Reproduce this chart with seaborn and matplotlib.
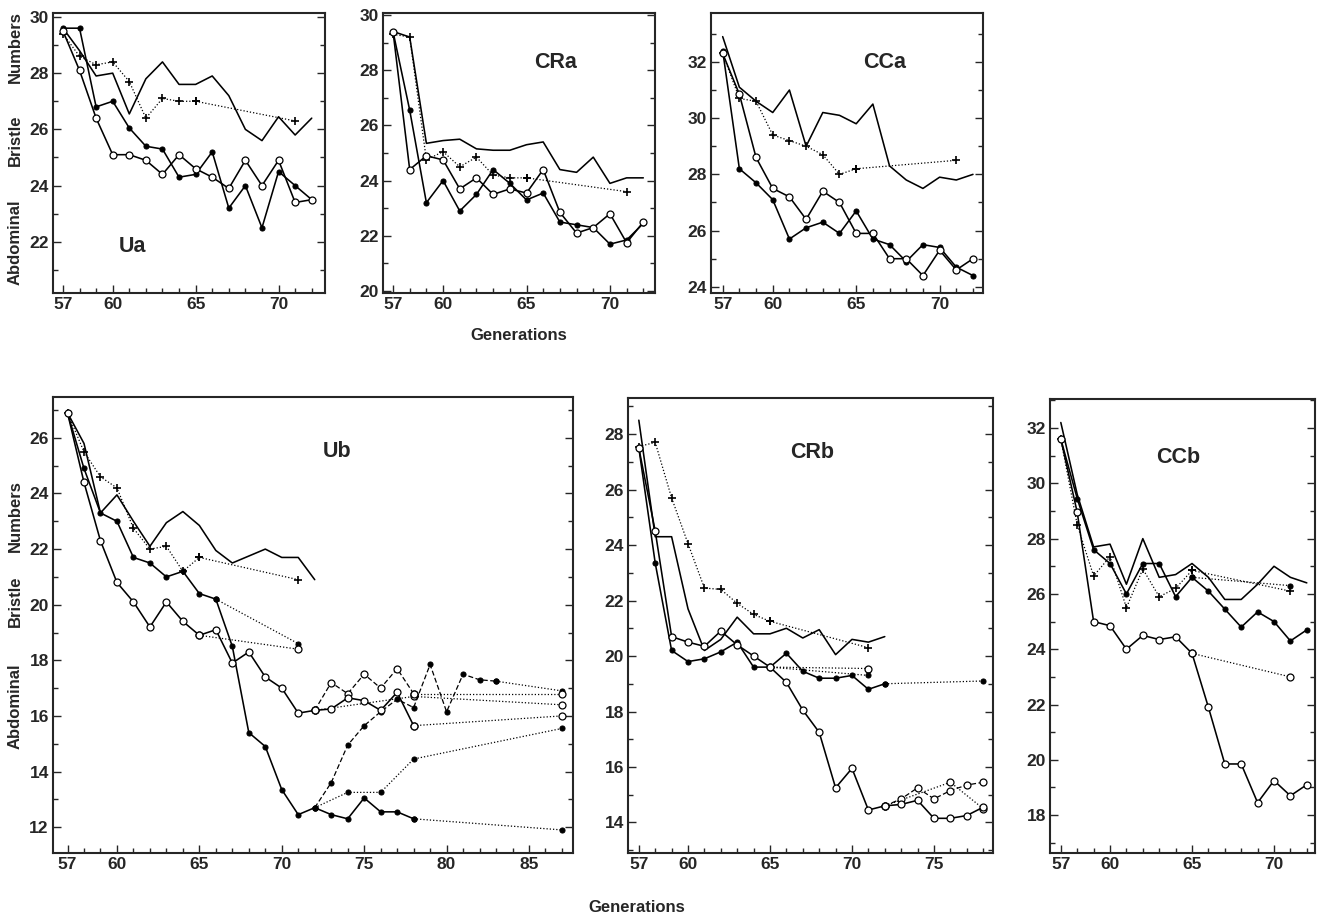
import matplotlib
matplotlib.use("Agg")
import matplotlib.pyplot as plt
import seaborn as sns
from matplotlib.ticker import FixedLocator, MultipleLocator

sns.set_style("ticks")
plt.rcParams['font.family'] = ['Liberation Sans', 'DejaVu Sans']
plt.rcParams['font.weight'] = 'bold'

W, H = 1320, 919

# ---- data (abdominal bristle numbers per generation) ----
gen_a = list(range(57, 73))
sel_gen = list(range(57, 66))

ua_solid = [29.6, 28.8, 27.9, 28.0, 26.55, 27.8, 28.4, 27.6, 27.6, 27.9, 27.2, 26.0, 25.6, 26.45, 25.8, 26.4]
ua_plus = [29.4, 28.6, 28.3, 28.4, 27.7, 26.4, 27.1, 27.0, 27.0]
ua_plus_rel = [27.0, 26.3]
ua_filled = [29.6, 29.6, 26.8, 27.0, 26.05, 25.4, 25.3, 24.3, 24.4, 25.2, 23.2, 24.0, 22.5, 24.5, 24.0, 23.5]
ua_open = [29.5, 28.1, 26.4, 25.1, 25.1, 24.9, 24.4, 25.1, 24.6, 24.3, 23.9, 24.9, 24.0, 24.9, 23.4, 23.5]

cra_solid = [29.4, 29.2, 25.35, 25.45, 25.5, 25.15, 25.1, 25.1, 25.3, 25.4, 24.4, 24.3, 24.85, 23.9, 24.1, 24.1]
cra_plus = [29.3, 29.2, 24.75, 25.05, 24.5, 24.85, 24.2, 24.1, 24.1]
cra_plus_rel = [24.1, 23.6]
cra_filled = [29.4, 26.55, 23.2, 24.0, 22.9, 23.5, 24.4, 23.9, 23.3, 23.55, 22.5, 22.4, 22.3, 21.7, 21.85, 22.45]
cra_open = [29.4, 24.4, 24.9, 24.75, 23.7, 24.1, 23.5, 23.7, 23.55, 24.4, 22.85, 22.1, 22.3, 22.8, 21.75, 22.5]

cca_solid = [32.9, 31.1, 30.6, 30.2, 31.0, 29.0, 30.2, 30.1, 29.8, 30.5, 28.3, 27.8, 27.5, 27.9, 27.8, 28.0]
cca_plus = [32.3, 30.7, 30.6, 29.4, 29.2, 29.0, 28.7, 28.0, 28.2]
cca_plus_rel = [28.2, 28.5]
cca_open = [32.3, 30.85, 28.6, 27.5, 27.2, 26.4, 27.4, 27.0, 25.9, 25.9, 25.0, 25.0, 24.4, 25.3, 24.6, 25.0]
cca_filled = [32.4, 28.2, 27.7, 27.1, 25.7, 26.1, 26.3, 25.9, 26.7, 25.7, 25.5, 24.9, 25.5, 25.4, 24.7, 24.4]

rel_gen = [65, 71]

# Ub
ub_solid = [26.9, 25.8, 23.3, 23.95, 23.0, 22.1, 22.95, 23.35, 22.85, 21.95, 21.5, 21.75, 22.0, 21.7, 21.7, 20.9]
ub_plus = [26.9, 25.5, 24.6, 24.2, 22.75, 22.0, 22.1, 21.2, 21.7]
ub_plus_rel = [21.7, 20.9]
ub_gen_long = list(range(57, 79))
ub_filled = [26.9, 24.9, 23.3, 23.0, 21.7, 21.5, 21.0, 21.2, 20.4, 20.2, 18.5, 15.4, 14.9, 13.35, 12.45, 12.7,
             12.45, 12.3, 13.05, 12.55, 12.55, 12.3]
ub_filled_rel_gen = [66, 71]
ub_filled_rel = [20.2, 18.6]
ub_filled_end_gen = [78, 87]
ub_filled_end = [12.3, 11.9]
ub_dash_gen = list(range(72, 84))
ub_filled_dash = [12.7, 13.6, 14.95, 15.65, 16.15, 16.6, 16.3, 17.85, 16.15, 17.5, 17.3, 17.25]
ub_filled_dash_end_gen = [83, 87]
ub_filled_dash_end = [17.25, 16.9]
ub_filled_dot_gen = [72, 74, 76, 78, 87]
ub_filled_dot = [12.7, 13.25, 13.25, 14.45, 15.55]
ub_open = [26.9, 24.4, 22.3, 20.8, 20.1, 19.2, 20.1, 19.4, 18.9, 19.1, 17.9, 18.3, 17.4, 17.0, 16.1, 16.2,
           16.25, 16.65, 16.55, 16.2, 16.85, 15.65]
ub_open_rel = [18.9, 18.4]
ub_open_end_gen = [78, 87]
ub_open_end = [15.65, 16.0]
ub_open_dash_gen = list(range(72, 79))
ub_open_dash = [16.2, 17.2, 16.8, 17.5, 17.0, 17.7, 16.8]
ub_open_dash_end = [16.8, 16.8]
ub_open_dot_gen = [72, 78, 87]
ub_open_dot = [16.2, 16.7, 16.4]

# CRb
crb_solid = [28.5, 24.3, 24.3, 21.7, 20.2, 20.6, 21.4, 20.8, 20.8, 21.0, 20.65, 20.95, 20.05, 20.6, 20.5, 20.7]
crb_plus = [27.55, 27.7, 25.7, 24.05, 22.45, 22.4, 21.9, 21.5, 21.25]
crb_plus_rel = [21.25, 20.3]
crb_open = [27.5, 24.5, 20.7, 20.5, 20.35, 20.9, 20.4, 20.0, 19.6, 19.05, 18.05, 17.25, 15.25, 15.95, 14.45, 14.6,
            14.65, 14.8, 14.15, 14.15, 14.25, 14.55]
crb_open_rel = [19.6, 19.55]
crb_open_dash = [14.6, 14.85, 15.25, 14.85, 15.15, 15.35, 15.45]
crb_open_dot_gen = [72, 76, 78]
crb_open_dot = [14.6, 15.45, 14.5]
crb_filled = [27.5, 23.35, 20.2, 19.8, 19.9, 20.15, 20.5, 19.6, 19.6, 20.1, 19.45, 19.2, 19.2, 19.3, 18.8, 19.0]
crb_filled_rel = [19.6, 19.3]
crb_filled_end_gen = [72, 78]
crb_filled_end = [19.0, 19.1]

# CCb
ccb_solid = [32.2, 29.6, 27.7, 27.8, 26.35, 28.0, 26.6, 26.7, 27.1, 26.6, 25.8, 25.8, 26.35, 27.0, 26.6, 26.4]
ccb_filled = [31.6, 29.45, 27.6, 27.1, 26.0, 27.1, 27.1, 25.9, 26.6, 26.1, 25.45, 24.8, 25.35, 25.0, 24.3, 24.7]
ccb_filled_rel = [26.6, 26.3]
ccb_plus = [31.6, 28.5, 26.65, 27.35, 25.5, 26.9, 25.9, 26.2, 26.85]
ccb_plus_rel = [26.85, 26.1]
ccb_open = [31.6, 28.95, 25.0, 24.85, 24.0, 24.5, 24.35, 24.45, 23.85, 21.9, 19.85, 19.85, 18.45, 19.25, 18.7, 19.1]
ccb_open_rel = [23.85, 23.0]

STYLES = {
    'line': dict(marker=None),
    'filled': dict(marker='o', markersize=3.6, markerfacecolor='k', markeredgecolor='k', markeredgewidth=0.8),
    'open': dict(marker='o', markersize=5.0, markerfacecolor='white', markeredgecolor='k', markeredgewidth=0.9),
    'plus': dict(marker='+', markersize=6, markeredgecolor='k', markeredgewidth=1.2),
}
LINES = {'-': '-', ':': (0, (1, 1.6)), '--': (0, (4, 2))}


def trace(ax, x, y, kind, ls='-'):
    lw = 1.15 if ls == '-' else 0.9
    sns.lineplot(x=x, y=y, ax=ax, color='k', linewidth=lw, linestyle=LINES[ls],
                 sort=False, zorder=3, **STYLES[kind])


def make_axes(px, xlim, ylim, xmajor):
    l, r, t, b = px
    ax = fig.add_axes([l / W, 1 - b / H, (r - l) / W, (b - t) / H])
    ax.set_xlim(*xlim)
    ax.set_ylim(*ylim)
    ax.xaxis.set_major_locator(FixedLocator(xmajor))
    ax.xaxis.set_minor_locator(MultipleLocator(1))
    ax.yaxis.set_major_locator(MultipleLocator(2))
    ax.yaxis.set_minor_locator(MultipleLocator(1))
    ax.tick_params(which='both', direction='in', top=False, right=True, labelsize=12.5,
                   width=1.0, pad=3)
    ax.tick_params(which='major', length=6)
    ax.tick_params(which='minor', length=3.5)
    ax.tick_params(axis='y', labelright=False)
    for s in ax.spines.values():
        s.set_linewidth(1.5)
    ax.set_xlabel('')
    ax.set_ylabel('')
    return ax


def label(x, y, s, size=11, rot=0):
    fig.text(x / W, 1 - y / H, s, ha='center', va='center', fontsize=size,
             fontweight='bold', rotation=rot)


fig = plt.figure(figsize=(13.2, 9.19), dpi=100)

# ---- top row ----
ax = make_axes((53, 325, 13, 293), (56.4, 72.8), (20.18, 30.14), [57, 60, 65, 70])
trace(ax, gen_a, ua_solid, 'line')
trace(ax, sel_gen, ua_plus, 'plus', ':')
trace(ax, rel_gen, ua_plus_rel, 'plus', ':')
trace(ax, gen_a, ua_filled, 'filled')
trace(ax, gen_a, ua_open, 'open')

ax = make_axes((383, 655, 13, 293), (56.4, 72.7), (19.93, 30.07), [57, 60, 65, 70])
trace(ax, gen_a, cra_solid, 'line')
trace(ax, sel_gen, cra_plus, 'plus', ':')
trace(ax, rel_gen, cra_plus_rel, 'plus', ':')
trace(ax, gen_a, cra_filled, 'filled')
trace(ax, gen_a, cra_open, 'open')

ax = make_axes((711, 983, 13, 293), (56.3, 72.6), (23.78, 33.74), [57, 60, 65, 70])
trace(ax, gen_a, cca_solid, 'line')
trace(ax, sel_gen, cca_plus, 'plus', ':')
trace(ax, rel_gen, cca_plus_rel, 'plus', ':')
trace(ax, gen_a, cca_filled, 'filled')
trace(ax, gen_a, cca_open, 'open')

# ---- bottom row ----
ax = make_axes((53, 573, 397, 853), (56.12, 87.67), (11.07, 27.47), [57, 60, 65, 70, 75, 80, 85])
trace(ax, gen_a, ub_solid, 'line')
trace(ax, sel_gen, ub_plus, 'plus', ':')
trace(ax, rel_gen, ub_plus_rel, 'plus', ':')
trace(ax, ub_filled_rel_gen, ub_filled_rel, 'filled', ':')
trace(ax, rel_gen, ub_open_rel, 'open', ':')
trace(ax, ub_filled_end_gen, ub_filled_end, 'filled', ':')
trace(ax, ub_filled_dot_gen, ub_filled_dot, 'filled', ':')
trace(ax, ub_filled_dash_end_gen, ub_filled_dash_end, 'filled', ':')
trace(ax, ub_open_end_gen, ub_open_end, 'open', ':')
trace(ax, ub_filled_end_gen, ub_open_dash_end, 'open', ':')
trace(ax, ub_open_dot_gen, ub_open_dot, 'open', ':')
trace(ax, ub_dash_gen, ub_filled_dash, 'filled', '--')
trace(ax, ub_open_dash_gen, ub_open_dash, 'open', '--')
trace(ax, ub_gen_long, ub_filled, 'filled')
trace(ax, ub_gen_long, ub_open, 'open')

ax = make_axes((628, 993, 398, 853), (56.34, 78.6), (12.9, 29.3), [57, 60, 65, 70, 75])
trace(ax, gen_a, crb_solid, 'line')
trace(ax, sel_gen, crb_plus, 'plus', ':')
trace(ax, rel_gen, crb_plus_rel, 'plus', ':')
trace(ax, rel_gen, crb_open_rel, 'open', ':')
trace(ax, rel_gen, crb_filled_rel, 'filled', ':')
trace(ax, crb_filled_end_gen, crb_filled_end, 'filled', ':')
trace(ax, crb_open_dot_gen, crb_open_dot, 'open', ':')
trace(ax, ub_open_dash_gen, crb_open_dash, 'open', '--')
trace(ax, gen_a, crb_filled, 'filled')
trace(ax, ub_gen_long, crb_open, 'open')

ax = make_axes((1050, 1315, 399, 853), (56.34, 72.5), (16.63, 33.05), [57, 60, 65, 70])
trace(ax, gen_a, ccb_solid, 'line')
trace(ax, sel_gen, ccb_plus, 'plus', ':')
trace(ax, rel_gen, ccb_plus_rel, 'plus', ':')
trace(ax, rel_gen, ccb_filled_rel, 'filled', ':')
trace(ax, rel_gen, ccb_open_rel, 'open', ':')
trace(ax, gen_a, ccb_filled, 'filled')
trace(ax, gen_a, ccb_open, 'open')

# ---- text ----
label(133, 247, 'Ua', 15.5)
label(556, 62, 'CRa', 15.5)
label(885, 62, 'CCa', 15.5)
label(337, 452, 'Ub', 15.5)
label(812, 453, 'CRb', 15.5)
label(1178, 457, 'CCb', 15.5)

for y, s in [(47, 'Numbers'), (140, 'Bristle'), (242, 'Abdominal'),
             (516, 'Numbers'), (601, 'Bristle'), (706, 'Abdominal')]:
    label(15, y, s, 12, 90)

label(519, 335, 'Generations', 12)
label(637, 907, 'Generations', 12)

fig.savefig('out.png', dpi=100)
